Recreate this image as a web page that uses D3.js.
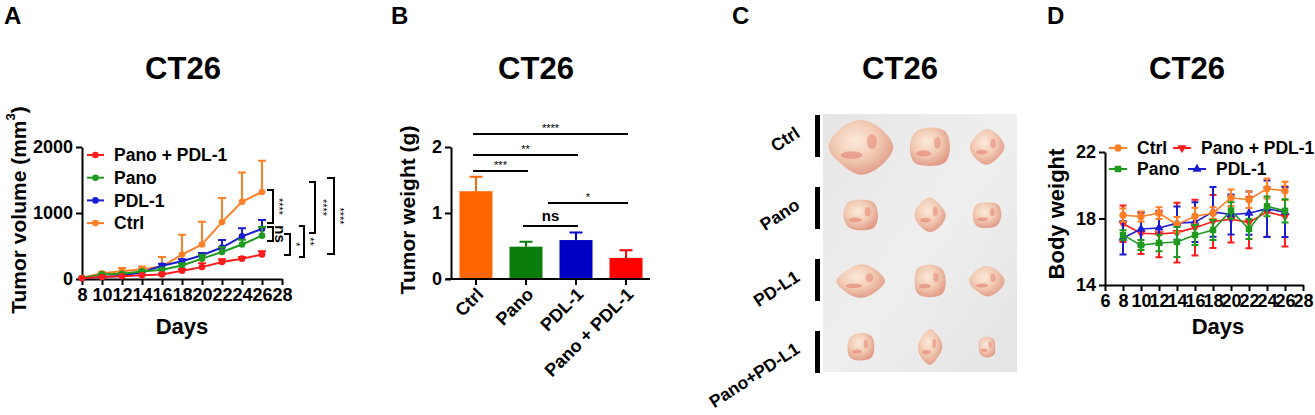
<!DOCTYPE html>
<html>
<head>
<meta charset="utf-8">
<script src="https://cdn.jsdelivr.net/npm/d3@7"></script>
<style>
  html, body { margin: 0; padding: 0; background: #fff; }
  svg { display: block; }
</style>
</head>
<body>
<div id="chart"></div>
<script>
// ---- data ----
const days = [8, 10, 12, 14, 16, 18, 20, 22, 24, 26];

// A: tumor volume (mm3), mean and upper SD
const volCtrl = [20, 87, 118, 149, 190, 370, 523, 862, 1170, 1318];
const volCtrlErr = [5, 20, 50, 40, 145, 300, 345, 365, 445, 475];
const volPano = [15, 70, 80, 115, 140, 205, 308, 410, 523, 657];
const volPanoErr = [4, 10, 10, 12, 15, 30, 60, 70, 70, 130];
const volPdl = [12, 30, 50, 100, 200, 270, 360, 477, 646, 760];
const volPdlErr = [4, 10, 10, 15, 30, 30, 35, 113, 124, 133];
const volCombo = [12, 30, 40, 55, 70, 125, 180, 257, 308, 370];
const volComboErr = [4, 8, 10, 10, 15, 25, 60, 43, 27, 50];

const volTicksX = [8, 10, 12, 14, 16, 18, 20, 22, 24, 26, 28];
const volTicksY = [0, 1000, 2000];

// A: comparison brackets at day 26 (low / high in mm3)
const bracketLo = [848, 576, 364, 333, 697, 379];
const bracketHi = [1348, 788, 682, 803, 1470, 1530];
const bracketLabels = ["****", "ns", "*", "**", "****", "****"];

// B: tumor weight (g)
const weightGroups = ["Ctrl", "Pano", "PDL-1", "Pano + PDL-1"];
const weightMean = [1.33, 0.49, 0.59, 0.32];
const weightErr = [0.22, 0.075, 0.115, 0.115];
const weightTicks = [0, 1, 2];
// B: significance lines (from group index, to group index, height in g)
const sigFrom = [0, 0, 0, 1.5, 1];
const sigTo = [3, 2, 1, 3, 2];
const sigLevel = [2.197, 1.879, 1.636, 1.152, 0.803];
const sigLabels = ["****", "**", "***", "*", "ns"];

// C: tumour photo, sizes of excised tumours per row (rx, ry)
const photoRows = ["Ctrl", "Pano", "PD-L1", "Pano+PD-L1"];
const tumorRx = [[31, 21, 17], [19, 15, 15], [24, 17, 17], [14, 12, 9]];
const tumorRy = [[27, 21, 17], [16, 17, 14], [16, 17, 15], [15, 17, 11]];

// D: body weight (g), mean and SD
const bwCtrl = [18.2, 18.12, 18.32, 17.64, 18.14, 18.32, 19.25, 19.13, 19.8, 19.66];
const bwCtrlErr = [0.4, 0.3, 0.35, 0.45, 0.5, 0.35, 0.5, 0.5, 0.6, 0.55];
const bwCombo = [17.68, 17.11, 17.07, 17.15, 17.45, 17.82, 17.96, 17.76, 18.4, 18.12];
const bwComboErr = [1.1, 1.24, 1.4, 1.8, 1.68, 1.6, 1.4, 1.55, 1.5, 1.8];
const bwPano = [17.0, 16.4, 16.53, 16.59, 17.01, 17.31, 18.48, 17.37, 18.73, 18.46];
const bwPanoErr = [0.3, 0.3, 0.5, 0.9, 0.6, 0.6, 0.5, 0.6, 0.6, 0.7];
const bwPdl = [16.83, 17.37, 17.43, 17.72, 17.78, 18.4, 18.24, 18.32, 18.59, 18.38];
const bwPdlErr = [1.0, 1.0, 1.0, 1.0, 1.2, 1.5, 1.2, 1.3, 1.7, 1.5];
const bwTicksX = [6, 8, 10, 12, 14, 16, 18, 20, 22, 24, 26, 28];
const bwTicksY = [14, 18, 22];

// ---- styling ----
const font = "Arial, 'Liberation Sans', Helvetica, sans-serif";
const orange = "#ff7f27", green = "#1f9a1f", blue = "#1c1cd2", red = "#ff1c1c";

const svg = d3.select("#chart").append("svg")
    .attr("width", 1315)
    .attr("height", 415)
    .style("font-family", font);

function panelLetter(x, text) {
    svg.append("text").attr("x", x).attr("y", 24)
        .attr("font-size", 24).attr("font-weight", "bold").text(text);
}

function title(x) {
    svg.append("text").attr("x", x).attr("y", 79)
        .attr("text-anchor", "middle")
        .attr("font-size", 31).attr("font-weight", "bold").text("CT26");
}

function yLabel(x, y, size) {
    return svg.append("text")
        .attr("transform", `translate(${x},${y}) rotate(-90)`)
        .attr("text-anchor", "middle")
        .attr("dominant-baseline", "central")
        .attr("font-size", size).attr("font-weight", "bold");
}

function styleAxis(g) {
    g.selectAll("path, line").attr("stroke", "#000").attr("stroke-width", 2);
    g.selectAll("text").attr("font-family", font).attr("font-weight", "bold")
        .attr("font-size", 18).attr("fill", "#000");
}

// ===================== A =====================
panelLetter(4, "A");
title(183);

const xA = d3.scaleLinear().domain([8, 28]).range([82, 282]);
const yA = d3.scaleLinear().domain([0, 2000]).range([279, 147]);

svg.append("g").attr("transform", "translate(0,279)")
    .call(d3.axisBottom(xA).tickValues(volTicksX).tickSize(6).tickSizeOuter(0).tickPadding(3))
    .call(styleAxis);
svg.append("g").attr("transform", "translate(82,0)")
    .call(d3.axisLeft(yA).tickValues(volTicksY).tickFormat(d3.format("d"))
        .tickSize(6).tickSizeOuter(0).tickPadding(3))
    .call(styleAxis);

const yLabA = yLabel(18, 210, 21).text("Tumor volume (mm");
yLabA.append("tspan").attr("font-size", 13).attr("dy", -8).text("3");
yLabA.append("tspan").attr("dy", 8).text(")");

svg.append("text").attr("x", 182).attr("y", 334).attr("text-anchor", "middle")
    .attr("font-size", 22).attr("font-weight", "bold").text("Days");

const seriesA = [
    {name: "Ctrl", color: orange, values: volCtrl, errors: volCtrlErr},
    {name: "PDL-1", color: blue, values: volPdl, errors: volPdlErr},
    {name: "Pano", color: green, values: volPano, errors: volPanoErr},
    {name: "Pano + PDL-1", color: red, values: volCombo, errors: volComboErr}
];

const lineA = d3.line().x(d => xA(d.day)).y(d => yA(d.v));

seriesA.forEach(s => {
    const pts = days.map((day, i) => ({day, v: s.values[i], e: s.errors[i]}));
    const g = svg.append("g");
    g.selectAll("path.err").data(pts).join("path")
        .attr("d", d => {
            const x = xA(d.day), t = yA(d.v + d.e);
            return `M${x},${yA(d.v)}V${t}M${x - 4},${t}H${x + 4}`;
        })
        .attr("fill", "none").attr("stroke", s.color).attr("stroke-width", 2);
    g.append("path").datum(pts).attr("d", lineA)
        .attr("fill", "none").attr("stroke", s.color).attr("stroke-width", 2);
    g.selectAll("circle").data(pts).join("circle")
        .attr("cx", d => xA(d.day)).attr("cy", d => yA(d.v)).attr("r", 3.3)
        .attr("fill", s.color);
});

// legend A
const legendA = ["Pano + PDL-1", "Pano", "PDL-1", "Ctrl"];
const legendAColor = [red, green, blue, orange];
legendA.forEach((name, i) => {
    const y = 155 + i * 22.7;
    svg.append("line").attr("x1", 87).attr("x2", 104).attr("y1", y).attr("y2", y)
        .attr("stroke", legendAColor[i]).attr("stroke-width", 2);
    svg.append("circle").attr("cx", 95.5).attr("cy", y).attr("r", 3.3).attr("fill", legendAColor[i]);
    svg.append("text").attr("x", 114).attr("y", y).attr("dy", "0.36em")
        .attr("font-size", 17.5).attr("font-weight", "bold").text(name);
});

// brackets A
const bracketX = [273, 273, 290, 304, 315, 334];
const bracketW = [6, 6, 6, 5, 6, 7];
const bracketTextX = [279, 280, 296, 310, 323, 340];
bracketLabels.forEach((lab, i) => {
    const x = bracketX[i], y1 = yA(bracketHi[i]), y2 = yA(bracketLo[i]);
    svg.append("path")
        .attr("d", `M${x - bracketW[i]},${y1}H${x}V${y2}H${x - bracketW[i]}`)
        .attr("fill", "none").attr("stroke", "#000").attr("stroke-width", 2);
    const isNs = lab === "ns";
    svg.append("text")
        .attr("transform", `translate(${bracketTextX[i]},${(y1 + y2) / 2}) rotate(90)`)
        .attr("text-anchor", "middle").attr("dominant-baseline", "central")
        .attr("font-size", isNs ? 15 : 11)
        .attr("font-weight", isNs ? "bold" : "normal")
        .attr("fill", "#000")
        .text(lab);
});

// ===================== B =====================
panelLetter(391, "B");
title(536);

const barColors = ["#ff6600", "#0a7d0a", "#0000c4", "#ff0000"];
const xB = d3.scaleBand().domain(weightGroups).range([451, 651])
    .paddingInner(0.34).paddingOuter(0.17);
const yB = d3.scaleLinear().domain([0, 2]).range([279, 147]);
const centerB = i => {
    const lo = Math.floor(i), f = i - lo;
    return xB(weightGroups[lo]) + xB.bandwidth() / 2 + f * xB.step();
};

svg.append("g").selectAll("rect").data(weightGroups).join("rect")
    .attr("x", d => xB(d)).attr("width", xB.bandwidth())
    .attr("y", (d, i) => yB(weightMean[i]))
    .attr("height", (d, i) => yB(0) - yB(weightMean[i]))
    .attr("fill", (d, i) => barColors[i]);

weightGroups.forEach((d, i) => {
    const cx = xB(d) + xB.bandwidth() / 2;
    const top = yB(weightMean[i] + weightErr[i]);
    svg.append("path").attr("d", `M${cx},${yB(weightMean[i])}V${top}M${cx - 6.5},${top}H${cx + 6.5}`)
        .attr("stroke", barColors[i]).attr("stroke-width", 2).attr("fill", "none");
});

svg.append("g").attr("transform", "translate(451,0)")
    .call(d3.axisLeft(yB).tickValues(weightTicks).tickFormat(d3.format("d"))
        .tickSize(6).tickSizeOuter(0).tickPadding(3))
    .call(styleAxis);
svg.append("line").attr("x1", 446).attr("x2", 650).attr("y1", 279).attr("y2", 279)
    .attr("stroke", "#000").attr("stroke-width", 2);
const axBx = svg.append("g").attr("transform", "translate(0,279)")
    .call(d3.axisBottom(xB).tickSize(6).tickSizeOuter(0).tickFormat(""))
    .call(styleAxis);
axBx.select(".domain").remove();

svg.append("g").selectAll("text").data(weightGroups).join("text")
    .attr("transform", d => `translate(${xB(d) + xB.bandwidth() / 2 + 4},${291}) rotate(-45)`)
    .attr("text-anchor", "end").attr("dy", "0.35em")
    .attr("font-size", 18).attr("font-weight", "bold")
    .text(d => d);

yLabel(407, 210, 21).text("Tumor weight (g)");

sigLabels.forEach((lab, i) => {
    const x1 = centerB(sigFrom[i]) - 3, x2 = centerB(sigTo[i]) + 2;
    const y = yB(sigLevel[i]);
    svg.append("line").attr("x1", x1).attr("x2", x2).attr("y1", y).attr("y2", y)
        .attr("stroke", "#000").attr("stroke-width", 2);
    const isNs = lab === "ns";
    svg.append("text").attr("x", (x1 + x2) / 2).attr("y", isNs ? y - 5 : y - 2)
        .attr("text-anchor", "middle")
        .attr("font-size", isNs ? 15 : 11)
        .attr("font-weight", isNs ? "bold" : "normal")
        .attr("fill", "#000")
        .text(lab);
});

// ===================== C =====================
panelLetter(732, "C");
title(900);

const defs = svg.append("defs");
const bg = defs.append("linearGradient").attr("id", "photoBg")
    .attr("x1", 0).attr("y1", 0).attr("x2", 1).attr("y2", 1);
bg.append("stop").attr("offset", 0).attr("stop-color", "#e6e6e6");
bg.append("stop").attr("offset", 0.5).attr("stop-color", "#efefef");
bg.append("stop").attr("offset", 1).attr("stop-color", "#e4e4e4");

const tg = defs.append("radialGradient").attr("id", "tumor")
    .attr("cx", 0.42).attr("cy", 0.38).attr("r", 0.65);
tg.append("stop").attr("offset", 0).attr("stop-color", "#fbe9da");
tg.append("stop").attr("offset", 0.5).attr("stop-color", "#f3cdb6");
tg.append("stop").attr("offset", 1).attr("stop-color", "#e09a86");

// group rows in the photo: 72 px step, black bar 42 px tall
const yC = d3.scaleBand().domain(photoRows).range([115, 403]);

svg.append("rect").attr("x", 823).attr("y", 114).attr("width", 194).attr("height", 258)
    .attr("fill", "url(#photoBg)");

// lumpy outline for each tumour
const lobes = [1, 0.93, 1.04, 0.95, 1.03, 0.9, 1.05, 0.96];
const blob = d3.lineRadial().curve(d3.curveCatmullRomClosed);

const colX = [861, 930, 987];
const rowY = [147, 215, 281, 347];
photoRows.forEach((row, r) => {
    svg.append("rect").attr("x", 815).attr("y", yC(row)).attr("width", 5)
        .attr("height", yC.bandwidth() - 30).attr("fill", "#000");
    svg.append("text")
        .attr("transform", `translate(${801},${yC(row) + 21}) rotate(-33)`)
        .attr("text-anchor", "end")
        .attr("font-size", 17.5).attr("font-weight", "bold").text(row);
    [0, 1, 2].forEach(c => {
        const rx = tumorRx[r][c], ry = tumorRy[r][c];
        const cx = colX[c], cy = rowY[r];
        const shift = r * 3 + c;
        const pts = lobes.map((k, j) => {
            const a = j / lobes.length * 2 * Math.PI;
            const m = lobes[(j + shift) % lobes.length];
            // radius of the ellipse at angle a
            const rr = (rx * ry) / Math.sqrt((ry * Math.sin(a)) ** 2 + (rx * Math.cos(a)) ** 2);
            return [a, rr * m];
        });
        const g = svg.append("g").attr("transform", `translate(${cx},${cy})`);
        g.append("path").attr("d", blob(pts)).attr("fill", "url(#tumor)");
        g.append("ellipse").attr("cx", -rx * 0.3).attr("cy", ry * 0.3)
            .attr("rx", rx * 0.35).attr("ry", ry * 0.14)
            .attr("fill", "#d9443c").attr("opacity", 0.35);
        g.append("ellipse").attr("cx", rx * 0.35).attr("cy", -ry * 0.2)
            .attr("rx", rx * 0.16).attr("ry", ry * 0.28)
            .attr("fill", "#d9443c").attr("opacity", 0.3);
    });
});

// ===================== D =====================
panelLetter(1047, "D");
title(1187);

const xD = d3.scaleLinear().domain([6, 28]).range([1105, 1303]);
const yD = d3.scaleLinear().domain([14, 22]).range([285, 152]);

svg.append("g").attr("transform", "translate(0,285)")
    .call(d3.axisBottom(xD).tickValues(bwTicksX).tickSize(6).tickSizeOuter(0).tickPadding(3))
    .call(styleAxis);
svg.append("g").attr("transform", "translate(1105,0)")
    .call(d3.axisLeft(yD).tickValues(bwTicksY).tickSize(6).tickSizeOuter(0).tickPadding(3))
    .call(styleAxis);

yLabel(1056, 214, 22).text("Body weight");
svg.append("text").attr("x", 1218).attr("y", 334).attr("text-anchor", "middle")
    .attr("font-size", 22).attr("font-weight", "bold").text("Days");

const symCircle = d3.symbol().type(d3.symbolCircle).size(42)();
const symSquare = d3.symbol().type(d3.symbolSquare).size(42)();
const symTri = d3.symbol().type(d3.symbolTriangle).size(36)();

const seriesD = [
    {name: "Pano + PDL-1", color: red, values: bwCombo, errors: bwComboErr, sym: symTri, rot: 180},
    {name: "PDL-1", color: blue, values: bwPdl, errors: bwPdlErr, sym: symTri, rot: 0},
    {name: "Ctrl", color: orange, values: bwCtrl, errors: bwCtrlErr, sym: symCircle, rot: 0},
    {name: "Pano", color: green, values: bwPano, errors: bwPanoErr, sym: symSquare, rot: 0}
];

const lineD = d3.line().x(d => xD(d.day)).y(d => yD(d.v));

seriesD.forEach(s => {
    const pts = days.map((day, i) => ({day, v: s.values[i], e: s.errors[i]}));
    const g = svg.append("g");
    g.selectAll("path.err").data(pts).join("path")
        .attr("d", d => {
            const x = xD(d.day), t = yD(d.v + d.e), b = yD(d.v - d.e);
            return `M${x},${t}V${b}M${x - 3.5},${t}H${x + 3.5}M${x - 3.5},${b}H${x + 3.5}`;
        })
        .attr("fill", "none").attr("stroke", s.color).attr("stroke-width", 2);
    g.append("path").datum(pts).attr("d", lineD)
        .attr("fill", "none").attr("stroke", s.color).attr("stroke-width", 1.6);
    g.selectAll("path.mk").data(pts).join("path")
        .attr("d", s.sym)
        .attr("transform", d => `translate(${xD(d.day)},${yD(d.v)}) rotate(${s.rot})`)
        .attr("fill", s.color);
});

// legend D
const legendDNames = ["Ctrl", "Pano + PDL-1", "Pano", "PDL-1"];
const legendDColor = [orange, red, green, blue];
const legendDSym = [symCircle, symTri, symSquare, symTri];
const legendDRot = [0, 180, 0, 0];
const legendDx = [1109, 1173, 1109, 1188];
const legendDy = [148, 148, 169, 169];
legendDNames.forEach((name, i) => {
    const x = legendDx[i], y = legendDy[i];
    svg.append("line").attr("x1", x).attr("x2", x + 18).attr("y1", y).attr("y2", y)
        .attr("stroke", legendDColor[i]).attr("stroke-width", 2);
    svg.append("path").attr("d", legendDSym[i])
        .attr("transform", `translate(${x + 9},${y}) rotate(${legendDRot[i]})`)
        .attr("fill", legendDColor[i]);
    svg.append("text").attr("x", x + 28).attr("y", y).attr("dy", "0.36em")
        .attr("font-size", 17.5).attr("font-weight", "bold").text(name);
});
</script>
</body>
</html>
